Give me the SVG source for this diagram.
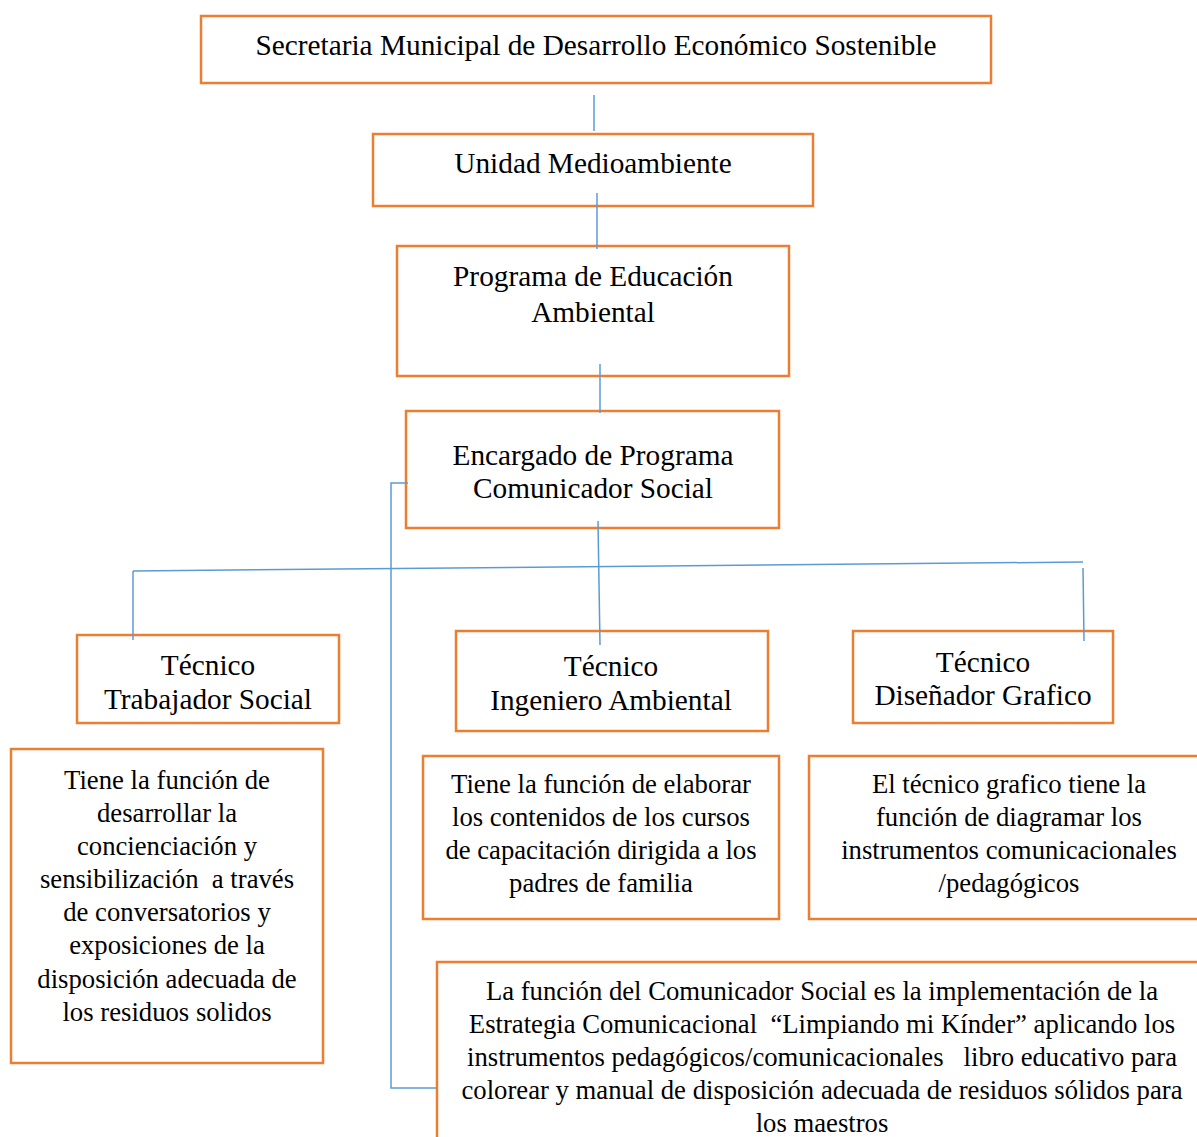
<svg xmlns="http://www.w3.org/2000/svg" width="1197" height="1137" viewBox="0 0 1197 1137">
<style>
.box{fill:#fff;stroke:#ED7D31;stroke-width:2.5}
.c{fill:none;stroke:#5B9BD5;stroke-width:1.5}
text{font-family:"Liberation Serif","Times New Roman",serif;fill:#000;text-anchor:middle;white-space:pre}
.h{font-size:29.3px}
.d{font-size:26.7px}
</style>
<rect width="1197" height="1137" fill="#fff"/>
<g id="n1"><rect class="box" x="201" y="16" width="790" height="67"/><text class="h" x="596" y="55">Secretaria Municipal de Desarrollo Económico Sostenible</text></g>
<g id="n2"><rect class="box" x="373" y="134" width="440" height="72"/><text class="h" x="593" y="173">Unidad Medioambiente</text></g>
<g id="n3"><rect class="box" x="397" y="246" width="392" height="130"/><text class="h" x="593" y="286">Programa de Educación</text><text class="h" x="593" y="322">Ambiental</text></g>
<g id="n4"><rect class="box" x="406" y="411" width="373" height="117"/><text class="h" x="593" y="465">Encargado de Programa</text><text class="h" x="593" y="498">Comunicador Social</text></g>
<g id="t1"><rect class="box" x="77" y="635" width="262" height="88"/><text class="h" x="208" y="675">Técnico</text><text class="h" x="208" y="709">Trabajador Social</text></g>
<g id="t2"><rect class="box" x="456" y="631" width="312" height="100"/><text class="h" x="611" y="676">Técnico</text><text class="h" x="611" y="710">Ingeniero Ambiental</text></g>
<g id="t3"><rect class="box" x="853" y="631" width="260" height="92"/><text class="h" x="983" y="672">Técnico</text><text class="h" x="983" y="705">Diseñador Grafico</text></g>
<g id="d1"><rect class="box" x="11" y="749" width="312" height="314"/>
<text class="d" x="167" y="789">Tiene la función de</text>
<text class="d" x="167" y="822">desarrollar la</text>
<text class="d" x="167" y="855">concienciación y</text>
<text class="d" x="167" y="888">sensibilización  a través</text>
<text class="d" x="167" y="921">de conversatorios y</text>
<text class="d" x="167" y="954">exposiciones de la</text>
<text class="d" x="167" y="988">disposición adecuada de</text>
<text class="d" x="167" y="1021">los residuos solidos</text></g>
<g id="d2"><rect class="box" x="423" y="756" width="356" height="163"/>
<text class="d" x="601" y="793">Tiene la función de elaborar</text>
<text class="d" x="601" y="826">los contenidos de los cursos</text>
<text class="d" x="601" y="859">de capacitación dirigida a los</text>
<text class="d" x="601" y="892">padres de familia</text></g>
<g id="d3"><rect class="box" x="809" y="756" width="400" height="163"/>
<text class="d" x="1009" y="793">El técnico grafico tiene la</text>
<text class="d" x="1009" y="826">función de diagramar los</text>
<text class="d" x="1009" y="859">instrumentos comunicacionales</text>
<text class="d" x="1009" y="892">/pedagógicos</text></g>
<g id="d4"><rect class="box" x="437" y="962" width="780" height="200"/>
<text class="d" x="822" y="1000">La función del Comunicador Social es la implementación de la</text>
<text class="d" x="822" y="1033">Estrategia Comunicacional  “Limpiando mi Kínder” aplicando los</text>
<text class="d" x="822" y="1066">instrumentos pedagógicos/comunicacionales   libro educativo para</text>
<text class="d" x="822" y="1099">colorear y manual de disposición adecuada de residuos sólidos para</text>
<text class="d" x="822" y="1132">los maestros</text></g>
<g id="connectors">
<line class="c" x1="594" y1="95" x2="594" y2="131"/>
<line class="c" x1="597" y1="193" x2="597" y2="249"/>
<line class="c" x1="600" y1="364" x2="600" y2="413"/>
<line class="c" x1="598" y1="521" x2="600" y2="645"/>
<line class="c" x1="133" y1="571" x2="1083" y2="562"/>
<line class="c" x1="133" y1="571" x2="133" y2="640"/>
<line class="c" x1="1083" y1="568" x2="1084" y2="641"/>
<polyline class="c" points="408,483 391,483 391,1088 436,1088"/>
</g>
</svg>
